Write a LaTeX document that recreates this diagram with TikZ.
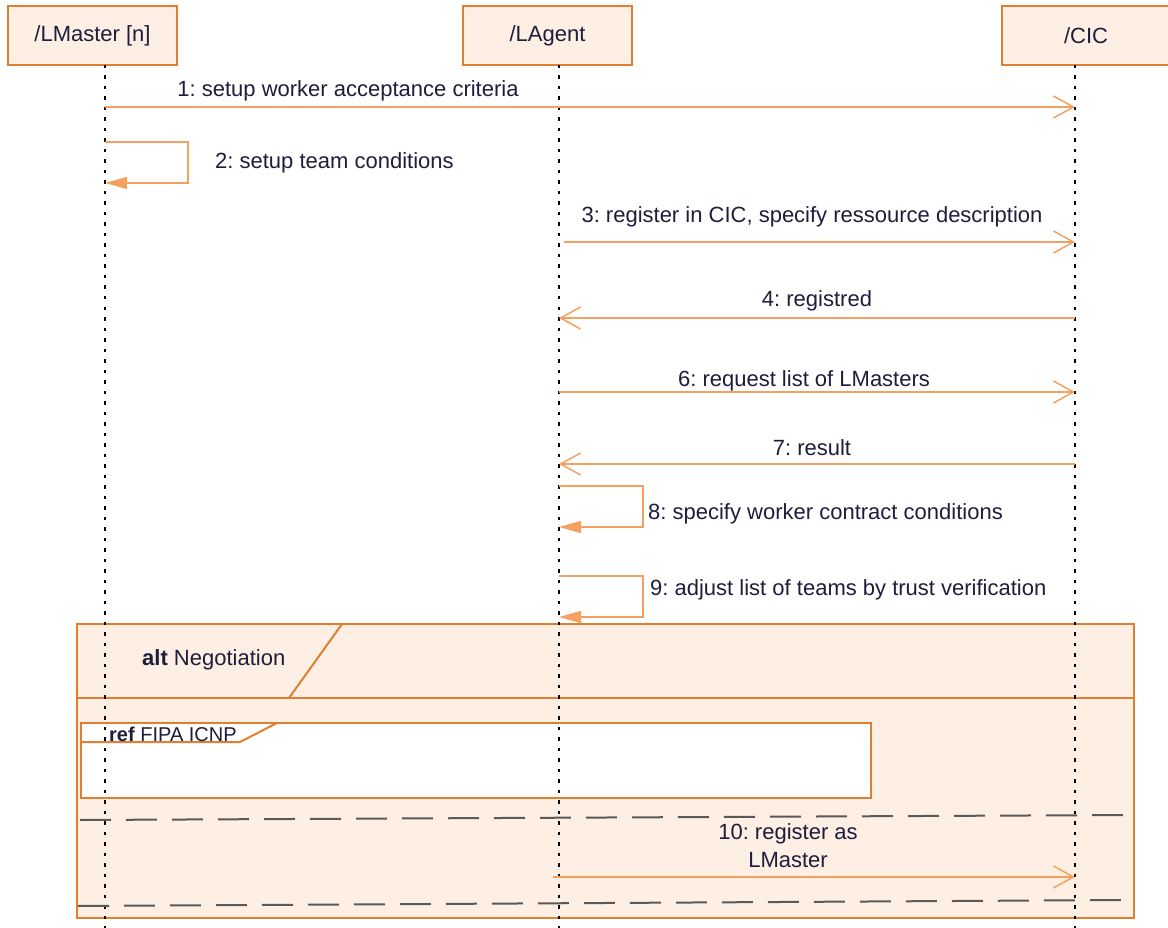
\documentclass[tikz,border=0pt]{standalone}
\usepackage{fontspec}
\setmainfont{Liberation Sans}
\usetikzlibrary{arrows.meta}
\definecolor{boxfill}{HTML}{FDEFE3}
\definecolor{boxline}{HTML}{E07F2F}
\definecolor{msgline}{HTML}{F5A060}
\definecolor{txt}{HTML}{1E1E3C}
\frenchspacing
\begin{document}
\begin{tikzpicture}[x=1pt,y=-1pt,
  head/.style={draw=boxline,fill=boxfill,line width=2pt,minimum height=59pt,text=txt,font=\fontsize{22}{26}\selectfont},
  life/.style={line width=1.5pt,dash pattern=on 3.5pt off 7pt},
  msg/.style={draw=msgline,line width=1.5pt,-{Straight Barb[length=20pt,width=22pt,line width=1.5pt]}},
  selfmsg/.style={draw=msgline,line width=1.5pt,-{Triangle[length=22pt,width=12pt]},msgline},
  lbl/.style={text=txt,inner sep=0pt,font=\fontsize{22}{28}\selectfont},
  frame/.style={draw=boxline,line width=2pt},
  guard/.style={draw=black!65,line width=2pt,dash pattern=on 31pt off 15pt}]
\useasboundingbox[fill=white] (0,0) rectangle (1168,928);
% heads
\node[head,minimum width=169pt] (lm) at (92.5,35.5) {/LMaster [n]};
\node[head,minimum width=169pt] (la) at (547.5,35.5) {/LAgent};
\node[head,minimum width=168pt] (cic) at (1086,35.5) {/CIC};
\coordinate (lmT) at (105,65); \coordinate (laT) at (559,65); \coordinate (cicT) at (1075,65);
\coordinate (lmB) at (105,928); \coordinate (laB) at (559,928); \coordinate (cicB) at (1075,928);
% alt frame
\draw[frame,fill=boxfill] (77,624) rectangle (1134,918);
\draw[frame] (77,698) -- (1134,698); \draw[frame] (342,624) -- (289,698);
\node[lbl,anchor=base west] (alt) at (142,665) {\textbf{alt} Negotiation};
\draw[frame,fill=white] (81,723) rectangle (871,798);
\draw[frame] (81,742) -- (240,742) -- (277,723);
\node[lbl,anchor=base west,font=\fontsize{20}{24}\selectfont] (ref) at (109,741) {\textbf{ref} FIPA ICNP};
% lifelines
\draw[life] (lmT) -- (lmB); \draw[life] (laT) -- (laB); \draw[life] (cicT) -- (cicB);
% messages
\draw[msg] (lmT |- 0,107) -- (cicT |- 0,107);
\node[lbl,anchor=base] (m1) at (348,97) {1: setup worker acceptance criteria};
\draw[selfmsg] (lmT |- 0,142) -| (188,183) -- (lmT |- 0,183);
\node[lbl,anchor=base west] (m2) at (215,169) {2: setup team conditions};
\draw[msg] (564,242) -- (cicT |- 0,242);
\node[lbl,anchor=base] (m3) at (812,223) {3: register in CIC, specify ressource description};
\draw[msg] (cicT |- 0,318) -- (laT |- 0,318);
\node[lbl,anchor=base] (m4) at (817,306) {4: registred};
\draw[msg] (laT |- 0,392) -- (cicT |- 0,392);
\node[lbl,anchor=base] (m6) at (804,386) {6: request list of LMasters};
\draw[msg] (cicT |- 0,464) -- (laT |- 0,464);
\node[lbl,anchor=base] (m7) at (812,455) {7: result};
\draw[selfmsg] (laT |- 0,486) -| (643,527) -- (laT |- 0,527);
\node[lbl,anchor=base west] (m8) at (648,519) {8: specify worker contract conditions};
\draw[selfmsg] (laT |- 0,576) -| (643,617) -- (laT |- 0,617);
\node[lbl,anchor=base west] (m9) at (650,595) {9: adjust list of teams by trust verification};
% alternatives
\draw[guard] (80,820) -- (1132,815);
\draw[guard] (78,906) -- (1130,900);
\draw[msg] (553,877) -- (cicT |- 0,877);
\node[lbl,align=center] (m10) at (788,846) {10: register as\\LMaster};
\end{tikzpicture}
\end{document}
